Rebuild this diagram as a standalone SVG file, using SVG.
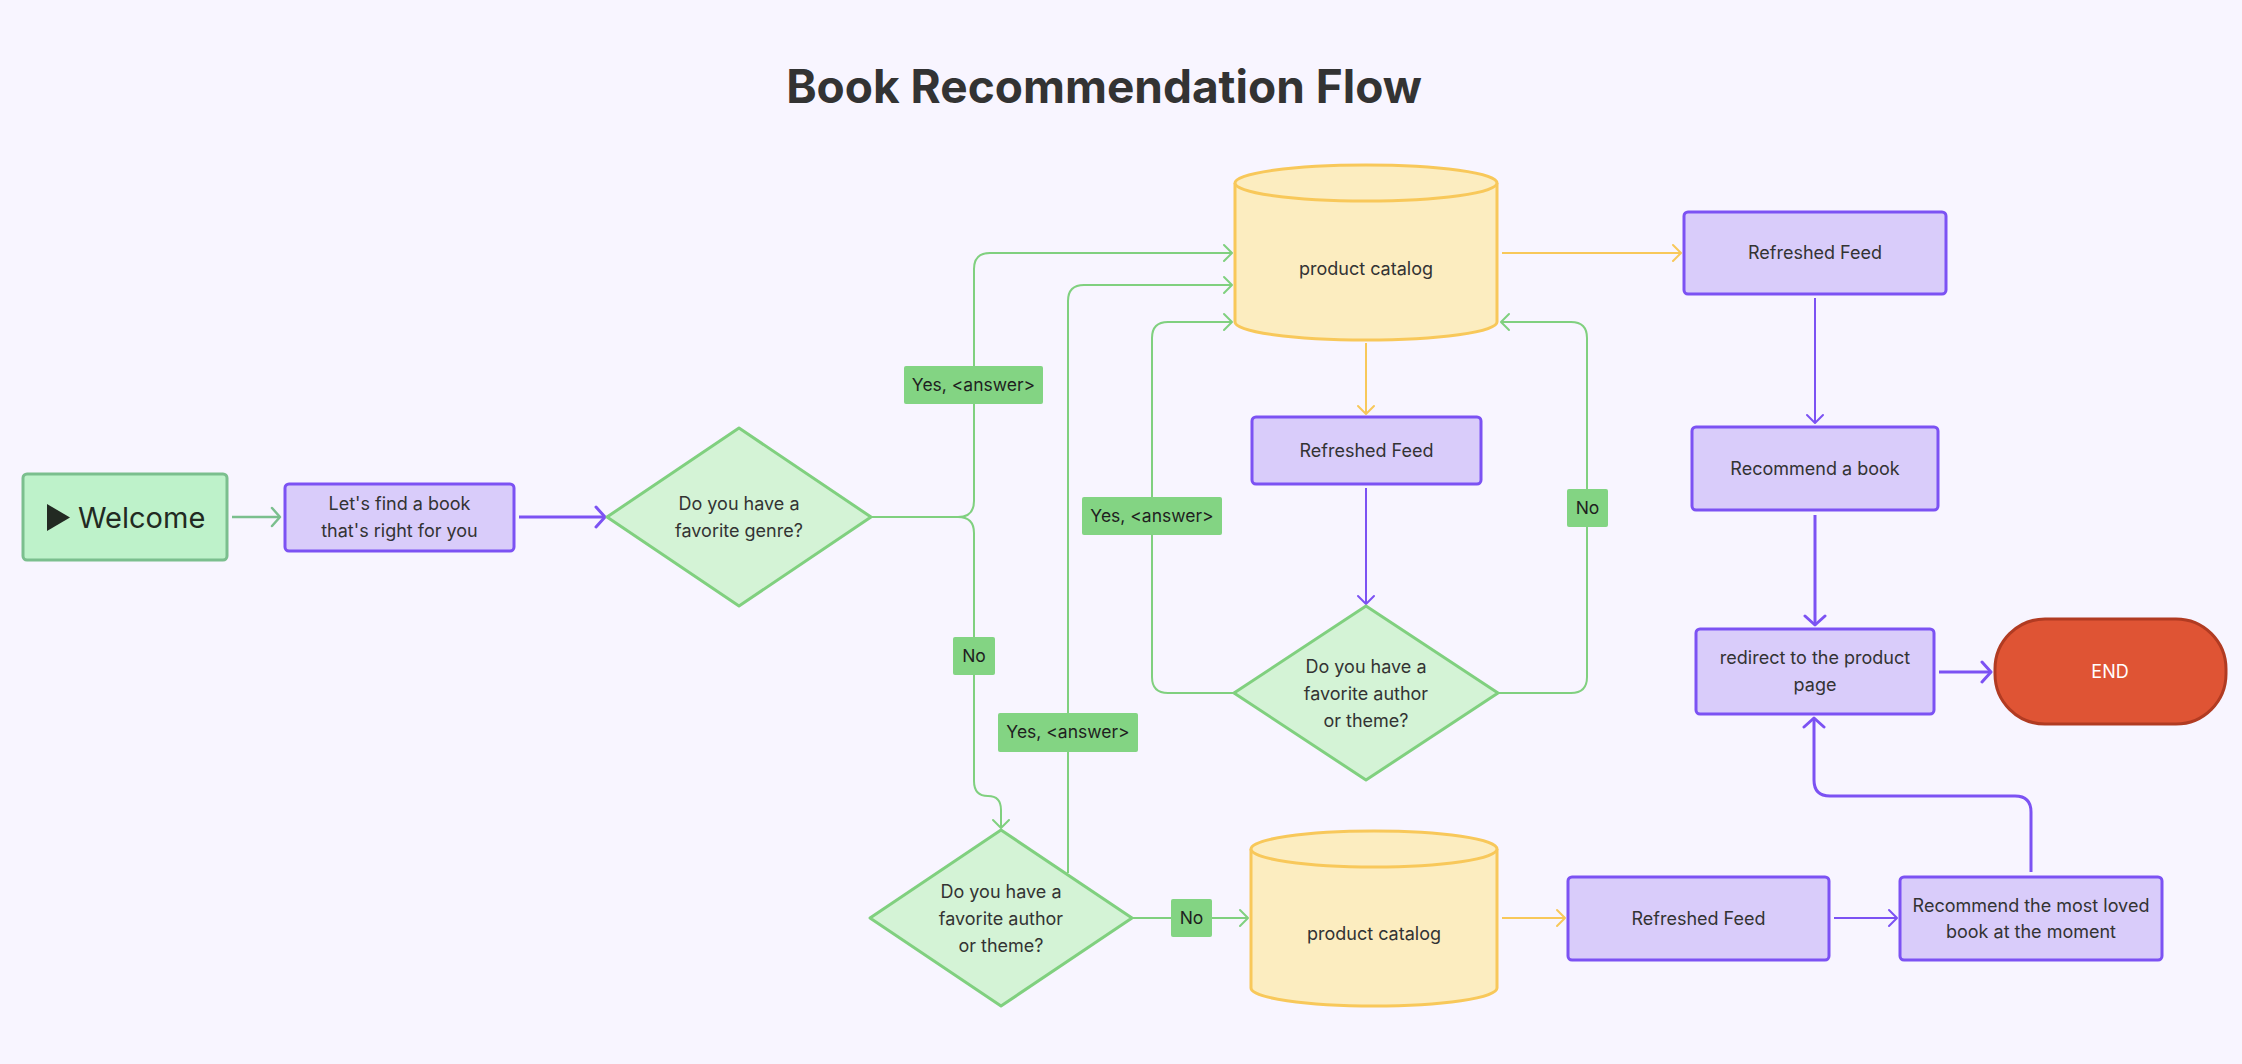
<svg xmlns="http://www.w3.org/2000/svg" width="2242" height="1064" viewBox="0 0 2242 1064">
<style>
.t{font-family:Inter,"Noto Sans","Liberation Sans",sans-serif;font-size:18px;fill:#333333;text-anchor:middle}
.title{font-family:Inter,"Noto Sans","Liberation Sans",sans-serif;font-size:46px;font-weight:700;fill:#333333;text-anchor:middle}
.box{fill:#d9ccfa;stroke:#7c52f3;stroke-width:3}
.dia{fill:#d4f3d6;stroke:#80d07f;stroke-width:3;stroke-linejoin:round}
.cyl{fill:#fcedc0;stroke:#f8c85a;stroke-width:3}
.lbl{fill:#83d483}
.lt{font-family:Inter,"Noto Sans","Liberation Sans",sans-serif;font-size:17.5px;fill:#1f1f1f;text-anchor:middle}
.cg{fill:none;stroke:#80d07f;stroke-width:2}
.cp{fill:none;stroke:#7c52f3;stroke-width:2}
.cpt{fill:none;stroke:#7c52f3;stroke-width:3}
.cy{fill:none;stroke:#f8c85a;stroke-width:2}
.cw{fill:none;stroke:#7bbf8e;stroke-width:2.5}
</style>
<defs>
<marker id="ag" markerUnits="userSpaceOnUse" markerWidth="12" markerHeight="20" viewBox="0 0 12 20" refX="10" refY="10" orient="auto"><path d="M2,2 L10,10 L2,18" fill="none" stroke="#80d07f" stroke-width="2" stroke-linecap="round" stroke-linejoin="round"/></marker>
<marker id="aw" markerUnits="userSpaceOnUse" markerWidth="12" markerHeight="22" viewBox="0 0 12 22" refX="10" refY="11" orient="auto"><path d="M2,2 L10,11 L2,20" fill="none" stroke="#7bbf8e" stroke-width="2.5" stroke-linecap="round" stroke-linejoin="round"/></marker>
<marker id="ap" markerUnits="userSpaceOnUse" markerWidth="12" markerHeight="20" viewBox="0 0 12 20" refX="10" refY="10" orient="auto"><path d="M2,2 L10,10 L2,18" fill="none" stroke="#7c52f3" stroke-width="2" stroke-linecap="round" stroke-linejoin="round"/></marker>
<marker id="apt" markerUnits="userSpaceOnUse" markerWidth="14" markerHeight="24" viewBox="0 0 14 24" refX="11" refY="12" orient="auto"><path d="M2,2 L11,12 L2,22" fill="none" stroke="#7c52f3" stroke-width="3" stroke-linecap="round" stroke-linejoin="round"/></marker>
<marker id="ay" markerUnits="userSpaceOnUse" markerWidth="12" markerHeight="20" viewBox="0 0 12 20" refX="10" refY="10" orient="auto"><path d="M2,2 L10,10 L2,18" fill="none" stroke="#f8c85a" stroke-width="2" stroke-linecap="round" stroke-linejoin="round"/></marker>
</defs>
<rect x="0" y="0" width="2242" height="1064" fill="#f8f5ff"/>
<text class="title" x="1104" y="103">Book Recommendation Flow</text>

<g id="connectors">
<path class="cw" d="M232,517 H280" marker-end="url(#aw)"/>
<path class="cpt" d="M519,517 H605" marker-end="url(#apt)"/>
<path class="cg" d="M871,517 H958 Q974,517 974,501 V269 Q974,253 990,253 H1232" marker-end="url(#ag)"/>
<path class="cg" d="M871,517 H958 Q974,517 974,533 V781 Q974,796 988,796 Q1001,796 1001,810 V828" marker-end="url(#ag)"/>
<path class="cg" d="M1068,873 V301 Q1068,285 1084,285 H1232" marker-end="url(#ag)"/>
<path class="cg" d="M1233,693 H1168 Q1152,693 1152,677 V338 Q1152,322 1168,322 H1232" marker-end="url(#ag)"/>
<path class="cg" d="M1498,693 H1571 Q1587,693 1587,677 V338 Q1587,322 1571,322 H1501" marker-end="url(#ag)"/>
<path class="cg" d="M1132,918 H1248" marker-end="url(#ag)"/>
<path class="cy" d="M1502,253 H1681" marker-end="url(#ay)"/>
<path class="cy" d="M1366,343 V414" marker-end="url(#ay)"/>
<path class="cy" d="M1502,918 H1565" marker-end="url(#ay)"/>
<path class="cp" d="M1366,488 V604" marker-end="url(#ap)"/>
<path class="cp" d="M1815,298 V423" marker-end="url(#ap)"/>
<path class="cpt" d="M1815,515 V625" marker-end="url(#apt)"/>
<path class="cpt" d="M1939,672 H1991" marker-end="url(#apt)"/>
<path class="cp" d="M1834,918 H1897" marker-end="url(#ap)"/>
<path class="cpt" d="M2031,872 V812 Q2031,796 2015,796 H1830 Q1814,796 1814,780 V718" marker-end="url(#apt)"/>
<g id="label-yes1"><rect class="lbl" x="904" y="366" width="139" height="38" rx="2"/><text class="lt" x="973.5" y="391">Yes, &lt;answer&gt;</text></g>
<g id="label-no1"><rect class="lbl" x="953" y="637" width="42" height="38" rx="2"/><text class="lt" x="974" y="662">No</text></g>
<g id="label-yes2"><rect class="lbl" x="998" y="713" width="140" height="39" rx="2"/><text class="lt" x="1068" y="738">Yes, &lt;answer&gt;</text></g>
<g id="label-yes3"><rect class="lbl" x="1082" y="497" width="140" height="38" rx="2"/><text class="lt" x="1152" y="522">Yes, &lt;answer&gt;</text></g>
<g id="label-no3"><rect class="lbl" x="1567" y="489" width="41" height="38" rx="2"/><text class="lt" x="1587.5" y="514">No</text></g>
<g id="label-no2"><rect class="lbl" x="1171" y="899" width="41" height="38" rx="2"/><text class="lt" x="1191.5" y="924">No</text></g>
</g>

<g id="welcome">
<rect x="23" y="474" width="204" height="86" rx="4" fill="#bef2ca" stroke="#7bbf8e" stroke-width="3"/>
<polygon points="47,504 70,517.5 47,531" fill="#222a22"/>
<text x="78" y="528" font-family="Inter,'Noto Sans','Liberation Sans',sans-serif" font-size="29" fill="#222a22">Welcome</text>
</g>

<g id="find-book">
<rect class="box" x="285" y="484" width="229" height="67" rx="4"/>
<text class="t" x="399.5" y="510">Let's find a book</text>
<text class="t" x="399.5" y="537">that's right for you</text>
</g>

<g id="genre-question">
<polygon class="dia" points="739,428 871,517 739,606 607,517"/>
<text class="t" x="739" y="510">Do you have a</text>
<text class="t" x="739" y="537">favorite genre?</text>
</g>

<g id="catalog-1">
<path class="cyl" d="M1235,183 V322 A131,18 0 0 0 1497,322 V183"/>
<ellipse class="cyl" cx="1366" cy="183" rx="131" ry="18"/>
<text class="t" x="1366" y="275">product catalog</text>
</g>

<g id="feed-2">
<rect class="box" x="1252" y="417" width="229" height="67" rx="4"/>
<text class="t" x="1366.5" y="457">Refreshed Feed</text>
</g>

<g id="author-question-1">
<polygon class="dia" points="1366,606 1498,693 1366,780 1234,693"/>
<text class="t" x="1366" y="673">Do you have a</text>
<text class="t" x="1366" y="700">favorite author</text>
<text class="t" x="1366" y="727">or theme?</text>
</g>

<g id="author-question-2">
<polygon class="dia" points="1001,830 1132,918 1001,1006 870,918"/>
<text class="t" x="1001" y="898">Do you have a</text>
<text class="t" x="1001" y="925">favorite author</text>
<text class="t" x="1001" y="952">or theme?</text>
</g>

<g id="catalog-2">
<path class="cyl" d="M1251,849 V988 A123,18 0 0 0 1497,988 V849"/>
<ellipse class="cyl" cx="1374" cy="849" rx="123" ry="18"/>
<text class="t" x="1374" y="940">product catalog</text>
</g>

<g id="feed-1">
<rect class="box" x="1684" y="212" width="262" height="82" rx="4"/>
<text class="t" x="1815" y="259">Refreshed Feed</text>
</g>

<g id="recommend-book">
<rect class="box" x="1692" y="427" width="246" height="83" rx="4"/>
<text class="t" x="1815" y="475">Recommend a book</text>
</g>

<g id="redirect">
<rect class="box" x="1696" y="629" width="238" height="85" rx="4"/>
<text class="t" x="1815" y="664">redirect to the product</text>
<text class="t" x="1815" y="691">page</text>
</g>

<g id="end">
<rect x="1995" y="619" width="231" height="105" rx="50" fill="#df5434" stroke="#b13b22" stroke-width="3"/>
<text x="2110" y="678" font-family="Inter,'Noto Sans','Liberation Sans',sans-serif" font-size="18" fill="#ffffff" text-anchor="middle">END</text>
</g>

<g id="feed-3">
<rect class="box" x="1568" y="877" width="261" height="83" rx="4"/>
<text class="t" x="1698.5" y="925">Refreshed Feed</text>
</g>

<g id="most-loved">
<rect class="box" x="1900" y="877" width="262" height="83" rx="4"/>
<text class="t" x="2031" y="912">Recommend the most loved</text>
<text class="t" x="2031" y="938">book at the moment</text>
</g>
</svg>
